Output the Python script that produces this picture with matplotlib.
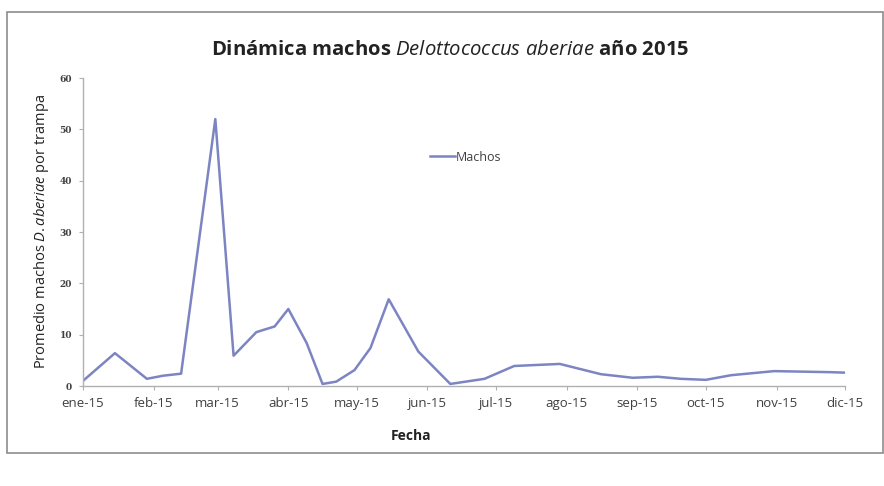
import matplotlib
matplotlib.use("Agg")
import matplotlib.pyplot as plt
from matplotlib.patches import Rectangle
import pandas as pd

# fechas de muestreo y promedio de machos por trampa
fechas = ["2015-01-01", "2015-01-15", "2015-01-29", "2015-02-05", "2015-02-13",
          "2015-02-28", "2015-03-08", "2015-03-18", "2015-03-26", "2015-04-01",
          "2015-04-09", "2015-04-16", "2015-04-22", "2015-04-30", "2015-05-07",
          "2015-05-15", "2015-05-28", "2015-06-11", "2015-06-26", "2015-07-09",
          "2015-07-29", "2015-08-16", "2015-08-30", "2015-09-10", "2015-09-20",
          "2015-10-01", "2015-10-12", "2015-10-31", "2015-11-24", "2015-12-01"]
machos = [1.0, 6.4, 1.4, 2.0, 2.4,
          52.0, 5.9, 10.5, 11.6, 15.0,
          8.4, 0.4, 0.85, 3.1, 7.4,
          16.9, 6.7, 0.4, 1.4, 3.9,
          4.3, 2.3, 1.6, 1.8, 1.4,
          1.2, 2.1, 2.9, 2.7, 2.6]
meses = ["ene-15", "feb-15", "mar-15", "abr-15", "may-15", "jun-15",
         "jul-15", "ago-15", "sep-15", "oct-15", "nov-15", "dic-15"]

plt.rcParams['font.family'] = ['Open Sans', 'DejaVu Sans']
plt.rcParams['mathtext.fontset'] = 'custom'
plt.rcParams['mathtext.rm'] = 'Open Sans'
plt.rcParams['mathtext.it'] = 'Open Sans:italic'

W, H = 884, 486
fig = plt.figure(figsize=(W / 100, H / 100), dpi=100)

# marco del grafico
fig.patches.append(Rectangle((7 / W, 1 - 453 / H), 876 / W, 441 / H,
                             transform=fig.transFigure, fill=False,
                             edgecolor="#8c8c8c", linewidth=1.2))

ax = fig.add_axes([83 / W, 1 - 386 / H, 762 / W, 308 / H])
x = pd.to_datetime(fechas)
ax.plot(x, machos, color="#7c85c2", linewidth=1.8, label="Machos")

ticks = pd.date_range("2015-01-01", "2015-12-01", freq="MS")
ax.set_xticks(ticks)
ax.set_xticklabels(meses, fontsize=9.5, color="#404040")
ax.set_xlim(ticks[0], ticks[-1])
ax.set_ylim(0, 60)
ax.set_yticks(range(0, 61, 10))
for lab in ax.get_yticklabels():
    lab.set_family("DejaVu Serif")
    lab.set_fontweight("bold")
    lab.set_fontsize(6.5)
    lab.set_color("#404040")

for s in ["top", "right"]:
    ax.spines[s].set_visible(False)
for s in ["left", "bottom"]:
    ax.spines[s].set_color("#b0b0b0")
    ax.spines[s].set_linewidth(1.0)
ax.tick_params(axis="both", direction="out", length=3, color="#b0b0b0", pad=5)

ax.legend(loc="upper left", bbox_to_anchor=(0.44, 0.80), frameon=False,
          fontsize=9, handlelength=2.0, handletextpad=0.1, labelcolor="#404040")

fig.text(450 / W, 1 - 50 / H,
         r"Dinámica machos $\mathit{Delottococcus\ aberiae}$ año 2015",
         ha="center", va="center", fontsize=14.6, fontweight="bold", color="#222222")
fig.text(42 / W, 1 - 232 / H,
         r"Promedio machos $\mathit{D.aberiae}$ por trampa",
         ha="center", va="center", rotation=90, fontsize=10.5, color="#222222")
fig.text(411 / W, 1 - 436 / H, "Fecha", ha="center", va="center",
         fontsize=10, fontweight="bold", color="#222222")

fig.savefig("out.png", dpi=100)
